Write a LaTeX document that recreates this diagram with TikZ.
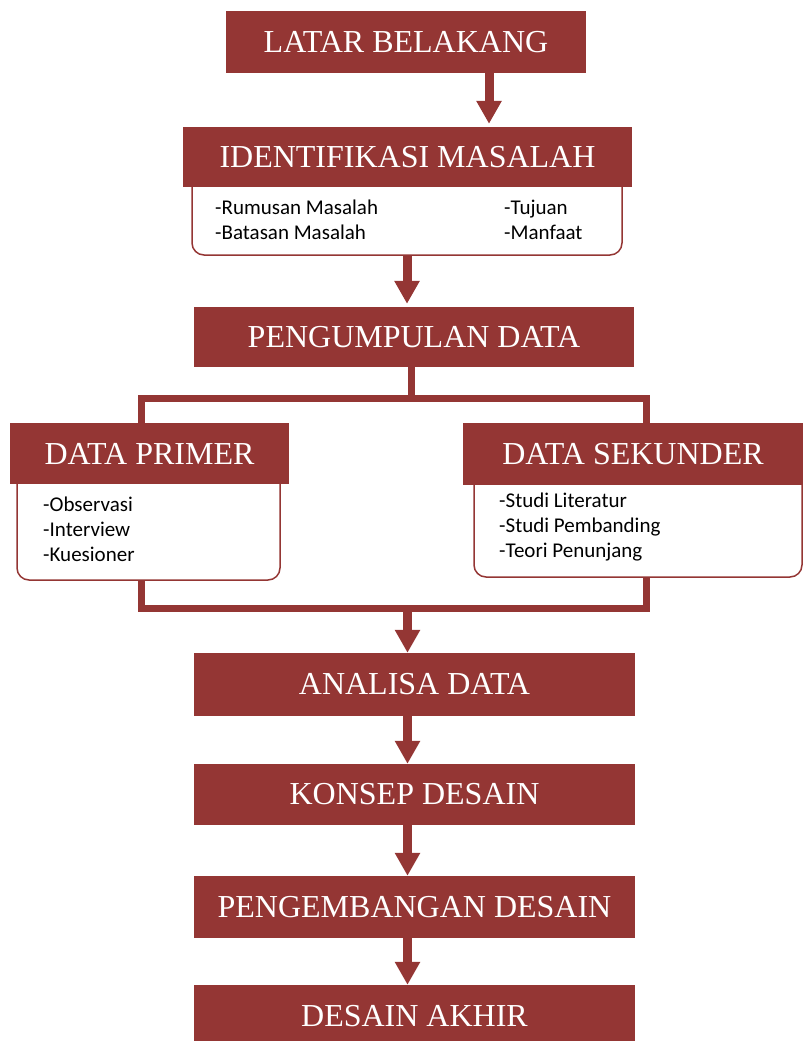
\documentclass[tikz,border=0pt]{standalone}
\usepackage{fontspec}
\setmainfont{Liberation Serif}
\newfontfamily\listfont{Carlito}
\usetikzlibrary{arrows.meta}
\definecolor{brick}{HTML}{943634}

\begin{document}
\begin{tikzpicture}[x=1pt,y=-1pt,
  head/.style={fill=brick,text=white,inner sep=0pt,font=\fontsize{32}{38}\selectfont},
  listbox/.style={draw=brick,fill=white,line width=1.5pt,rounded corners=12pt,inner sep=0pt},
  listtext/.style={anchor=north west,inner sep=0pt,align=left,font=\listfont\fontsize{21}{25}\selectfont},
  flow/.style={draw=brick,line width=9pt,-{Triangle[length=23pt,width=24pt]}},
  bracket/.style={draw=brick,line width=7pt}]
\useasboundingbox (0,0) rectangle (803,1041);
% frame joining the two data boxes
\coordinate (brtl) at (141,398);
\coordinate (brbr) at (646,608);
\draw[bracket] (brtl) rectangle (brbr);
% list boxes under the headings
\node[listbox,minimum width=430pt,minimum height=90pt] (identlist) at (407,210) {};
\node[listbox,minimum width=263pt,minimum height=140pt] (primerlist) at (148.5,510) {};
\node[listbox,minimum width=328pt,minimum height=137pt] (sekunderlist) at (638,508.5) {};
\node[listtext] (rumusan) at (215,200) {-Rumusan Masalah\\-Batasan Masalah};
\node[listtext] (tujuan) at (504,200) {-Tujuan\\-Manfaat};
\node[listtext] (observasi) at (43,497) {-Observasi\\-Interview\\-Kuesioner};
\node[listtext] (studi) at (499,493) {-Studi Literatur\\-Studi Pembanding\\-Teori Penunjang};
% headings
\node[head,minimum width=360pt,minimum height=62pt] (latar) at (406,42) {LATAR BELAKANG};
\node[head,minimum width=449pt,minimum height=60pt] (ident) at (407.5,157) {IDENTIFIKASI MASALAH};
\node[head,minimum width=440pt,minimum height=60pt] (kumpul) at (414,337) {PENGUMPULAN DATA};
\node[head,minimum width=279pt,minimum height=61pt] (primer) at (149.5,453.5) {DATA PRIMER};
\node[head,minimum width=340pt,minimum height=62pt] (sekunder) at (633,454) {DATA SEKUNDER};
\node[head,minimum width=441pt,minimum height=63pt] (analisa) at (414.5,684.5) {ANALISA DATA};
\node[head,minimum width=441pt,minimum height=61pt] (konsep) at (414.5,794.5) {KONSEP DESAIN};
\node[head,minimum width=441pt,minimum height=62pt] (kembang) at (414.5,907) {PENGEMBANGAN DESAIN};
\node[head,minimum width=441pt,minimum height=62pt] (akhir) at (414.5,1016) {DESAIN AKHIR};
% arrows
\draw[flow] ([xshift=83pt]latar.south) -- ([xshift=83pt,yshift=3pt]latar.south |- ident.north);
\draw[flow] (identlist.south) -- ([yshift=3pt]identlist.south |- kumpul.north);
\draw[bracket] ([xshift=-3pt]kumpul.south) -- ([xshift=-3pt]kumpul.south |- brtl);
\draw[flow] ([xshift=-7pt]analisa.north |- brbr) -- ([xshift=-7pt]analisa.north);
\foreach \a/\b in {analisa/konsep,konsep/kembang,kembang/akhir}
  \draw[flow] ([xshift=-7pt]\a.south) -- ([xshift=-7pt]\b.north);
\end{tikzpicture}
\end{document}
